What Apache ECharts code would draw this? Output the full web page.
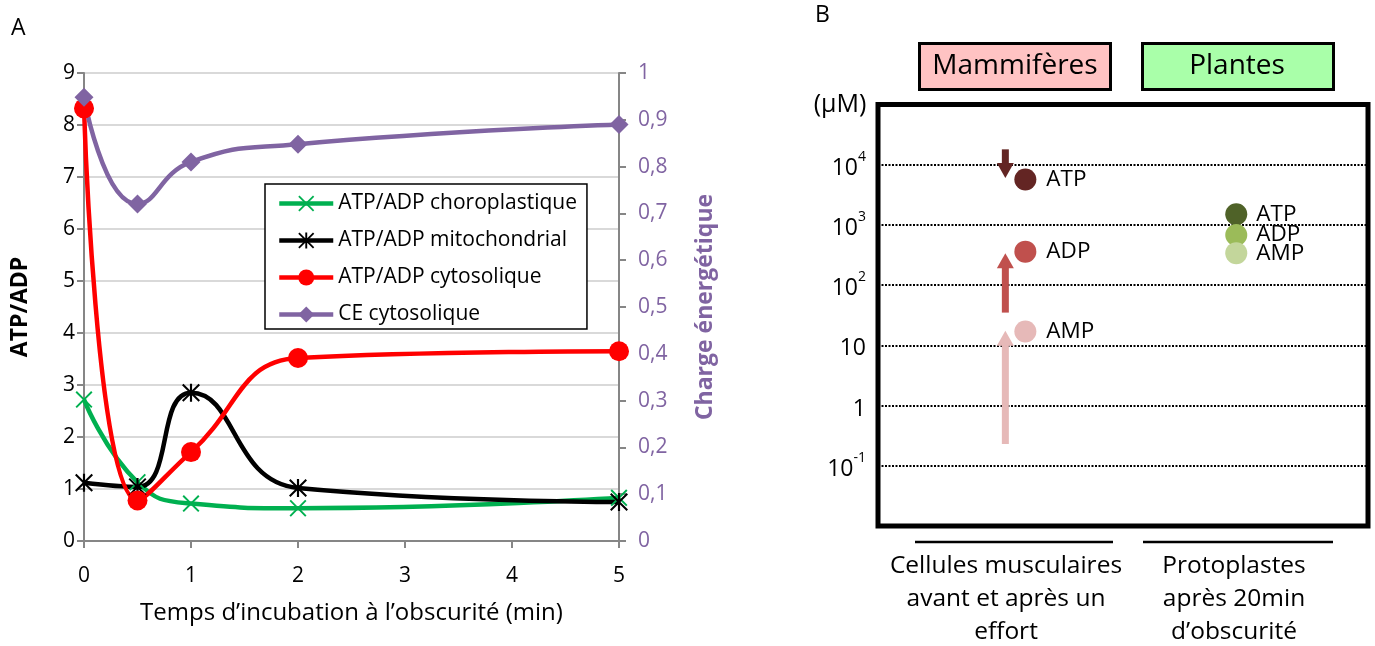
<!DOCTYPE html>
<html>
<head>
<meta charset="utf-8">
<script src="https://cdn.jsdelivr.net/npm/echarts@6/dist/echarts.min.js"></script>
<style>
html,body{margin:0;padding:0;background:#fff;}
#chart{width:1375px;height:646px;}
</style>
</head>
<body>
<div id="chart"></div>
<script>
// ---------- Panel A data ----------
const timesMin = [0, 0.5, 1, 2, 5];
const atpAdpChloro = [2.72, 1.13, 0.72, 0.63, 0.83];
const atpAdpMito = [1.12, 1.04, 2.85, 1.02, 0.75];
const atpAdpCyto = [8.32, 0.78, 1.71, 3.52, 3.65];
const ceCyto = [0.948, 0.72, 0.81, 0.848, 0.89];
const seriesNamesA = ['ATP/ADP choroplastique', 'ATP/ADP mitochondrial', 'ATP/ADP cytosolique', 'CE cytosolique'];

// ---------- Panel B data ----------
const nucleotides = ['ATP', 'ADP', 'AMP'];
const groupsB = ['Mammifères', 'Plantes'];
const categoriesB = [['Cellules musculaires', 'avant et après un', 'effort'], ['Protoplastes', 'après 20min', 'd’obscurité']];
const mammalConc = [5700, 360, 17];
const plantConc = [1500, 680, 340];
const mammalArrowFrom = [18000, 35, 0.23];
const mammalArrowTo = [6000, 340, 17.5];

const FONT = 'Open Sans';
const mammalColors = ['#632523', '#C0504D', '#E6B9B8'];
const plantColors = ['#4F6228', '#9BBB59', '#C3D69B'];

const pairs = (ys) => timesMin.map((t, i) => [t, ys[i]]);

const crossPath = 'path://M0,0.8 L0.8,0 L5,4.2 L9.2,0 L10,0.8 L5.8,5 L10,9.2 L9.2,10 L5,5.8 L0.8,10 L0,9.2 L4.2,5 Z';
const starPath = 'path://M0,0.8 L0.8,0 L5,4.2 L9.2,0 L10,0.8 L5.8,5 L10,9.2 L9.2,10 L5,5.8 L0.8,10 L0,9.2 L4.2,5 Z M4.4,0 L5.6,0 L5.6,10 L4.4,10 Z';

const chart = echarts.init(document.getElementById('chart'), null, {renderer: 'canvas'});

const TICK = 21;
const option = {
  backgroundColor: '#fff',
  animation: false,
  textStyle: {fontFamily: FONT},
  grid: [
    {left: 84, top: 73, width: 535, height: 468},
    {left: 878, top: 104.5, width: 490, height: 421.5, show: true, borderColor: '#000', borderWidth: 5, backgroundColor: 'transparent'}
  ],
  legend: {
    orient: 'vertical', left: 265, top: 184,
    padding: [9, 10, 4, 12],
    itemWidth: 54, itemHeight: 20, itemGap: 16,
    borderColor: '#000', borderWidth: 1.5, backgroundColor: '#fff',
    lineStyle: {width: 4.5},
    textStyle: {fontFamily: FONT, fontSize: 21, color: '#000'},
    data: seriesNamesA
  },
  xAxis: [
    {
      gridIndex: 0, type: 'value', min: 0, max: 5, interval: 1,
      name: 'Temps d’incubation à l’obscurité (min)', nameLocation: 'middle', nameGap: 60,
      nameTextStyle: {fontFamily: FONT, fontSize: 24, color: '#000'},
      axisLine: {lineStyle: {color: '#868686', width: 2}},
      axisTick: {show: true, length: 7, lineStyle: {color: '#868686', width: 2}},
      axisLabel: {margin: 25, fontFamily: FONT, fontSize: TICK, color: '#000'},
      splitLine: {show: false}
    },
    {
      gridIndex: 1, type: 'value', min: -0.55, max: 1.6, show: false
    }
  ],
  yAxis: [
    {
      gridIndex: 0, type: 'value', min: 0, max: 9, interval: 1,
      name: 'ATP/ADP', nameLocation: 'middle', nameGap: 52, nameRotate: 90,
      nameTextStyle: {fontFamily: FONT, fontSize: 23, fontWeight: 'bold', color: '#000'},
      axisLine: {show: true, lineStyle: {color: '#868686', width: 2}},
      axisTick: {show: true, length: 7, lineStyle: {color: '#868686', width: 2}},
      axisLabel: {margin: 9, fontFamily: FONT, fontSize: TICK, color: '#000'},
      splitLine: {show: true, lineStyle: {color: '#D9D9D9', width: 2}}
    },
    {
      gridIndex: 0, type: 'value', position: 'right', min: 0, max: 1, interval: 0.1,
      name: 'Charge énergétique', nameLocation: 'middle', nameGap: 75, nameRotate: 90,
      nameTextStyle: {fontFamily: FONT, fontSize: 23, fontWeight: 'bold', color: '#8064A2'},
      axisLine: {show: true, lineStyle: {color: '#868686', width: 2}},
      axisTick: {show: true, length: 7, lineStyle: {color: '#868686', width: 2}},
      axisLabel: {margin: 19, fontFamily: FONT, fontSize: TICK, color: '#8064A2',
        formatter: (v) => String(Math.round(v * 10) / 10).replace('.', ',')},
      splitLine: {show: false}
    },
    {
      gridIndex: 1, type: 'log', logBase: 10, min: 0.01, max: 100000, splitNumber: 7,
      axisLine: {show: false}, axisTick: {show: false},
      axisLabel: {
        margin: 12, showMinLabel: false, showMaxLabel: false, color: '#000',
        formatter: (v) => {
          const e = Math.round(Math.log10(v));
          if (e === 1) return '{b|10}';
          if (e === 0) return '{b|1}';
          return '{b|10}{s|' + e + '}';
        },
        rich: {
          b: {fontFamily: FONT, fontSize: 23, color: '#000', lineHeight: 30, verticalAlign: 'bottom'},
          s: {fontFamily: FONT, fontSize: 14, color: '#000', lineHeight: 16, verticalAlign: 'top'}
        }
      },
      splitLine: {show: true, lineStyle: {color: '#000', width: 2, type: [2, 1.5]}}
    }
  ],
  series: [
    {
      name: seriesNamesA[0], type: 'line', xAxisIndex: 0, yAxisIndex: 0, smooth: 0.5,
      data: pairs(atpAdpChloro), symbol: crossPath, symbolSize: 17,
      lineStyle: {color: '#00B050', width: 4.5}, itemStyle: {color: '#00B050'}
    },
    {
      name: seriesNamesA[1], type: 'line', xAxisIndex: 0, yAxisIndex: 0, smooth: 0.5,
      data: pairs(atpAdpMito), symbol: starPath, symbolSize: 18,
      lineStyle: {color: '#000000', width: 4.5}, itemStyle: {color: '#000000'}
    },
    {
      name: seriesNamesA[2], type: 'line', xAxisIndex: 0, yAxisIndex: 0, smooth: 0.45,
      data: pairs(atpAdpCyto), symbol: 'circle', symbolSize: 20,
      lineStyle: {color: '#FF0000', width: 4.5}, itemStyle: {color: '#FF0000'}
    },
    {
      name: seriesNamesA[3], type: 'line', xAxisIndex: 0, yAxisIndex: 1, smooth: 0.5,
      data: pairs(ceCyto), symbol: 'diamond', symbolSize: 19,
      lineStyle: {color: '#8064A2', width: 4.5}, itemStyle: {color: '#8064A2'}
    },
    {
      type: 'custom', xAxisIndex: 1, yAxisIndex: 2, silent: true,
      data: mammalArrowFrom.map((v, i) => [0, v, mammalArrowTo[i], i]),
      encode: {x: 0, y: [1, 2]},
      renderItem: (params, api) => {
        const x = api.value(0);
        const p0 = api.coord([x, api.value(1)]);
        const p1 = api.coord([x, api.value(2)]);
        const cx = p0[0] + 2;
        const dir = p1[1] > p0[1] ? 1 : -1;
        const headLen = 15, halfW = 8.5, shaftW = 7;
        const baseY = p1[1] - dir * headLen;
        const col = mammalColors[api.value(3)];
        const y0 = Math.min(p0[1], baseY + dir * 1), y1 = Math.max(p0[1], baseY + dir * 1);
        return {
          type: 'group',
          children: [
            {type: 'rect', shape: {x: cx - shaftW / 2, y: y0, width: shaftW, height: y1 - y0}, style: {fill: col}},
            {type: 'polygon', shape: {points: [[cx, p1[1]], [cx - halfW, baseY], [cx + halfW, baseY]]}, style: {fill: col}}
          ]
        };
      }
    },
    {
      type: 'scatter', xAxisIndex: 1, yAxisIndex: 2, symbolSize: 22, symbolOffset: [22, 0],
      data: nucleotides.map((n, i) => ({name: n, value: [0, mammalConc[i]], itemStyle: {color: mammalColors[i], opacity: 1}})),
      label: {show: true, position: 'right', distance: 10, formatter: '{b}', fontFamily: FONT, fontSize: 22.5, color: '#000'}
    },
    {
      type: 'scatter', xAxisIndex: 1, yAxisIndex: 2, symbolSize: 22, symbolOffset: [5, 0],
      data: nucleotides.map((n, i) => ({name: n, value: [1, plantConc[i]], itemStyle: {color: plantColors[i], opacity: 1}})),
      label: {show: true, position: 'right', distance: 9, formatter: '{b}', fontFamily: FONT, fontSize: 22.5, color: '#000'}
    }
  ],
  graphic: [
    {type: 'text', left: 11, top: 17, style: {text: 'A', fontFamily: FONT, fontSize: 23, fill: '#000'}},
    {type: 'text', left: 815, top: 4, style: {text: 'B', fontFamily: FONT, fontSize: 23, fill: '#000'}},
    {type: 'text', x: 840, y: 105, style: {text: '(µM)', fontFamily: FONT, fontSize: 25, fill: '#000', align: 'center', verticalAlign: 'middle'}},
    {type: 'rect', shape: {x: 919.5, y: 43.5, width: 191, height: 46}, style: {fill: '#FFC3C3', stroke: '#000', lineWidth: 3}},
    {type: 'text', x: 1015, y: 66, style: {text: groupsB[0], fontFamily: FONT, fontSize: 28, fill: '#000', align: 'center', verticalAlign: 'middle'}},
    {type: 'rect', shape: {x: 1142.5, y: 43.5, width: 191, height: 46}, style: {fill: '#A9FFA9', stroke: '#000', lineWidth: 3}},
    {type: 'text', x: 1237, y: 66, style: {text: groupsB[1], fontFamily: FONT, fontSize: 28, fill: '#000', align: 'center', verticalAlign: 'middle'}},
    {type: 'line', shape: {x1: 915, y1: 542, x2: 1113, y2: 542}, style: {stroke: '#000', lineWidth: 2.5}},
    {type: 'line', shape: {x1: 1143, y1: 542, x2: 1333, y2: 542}, style: {stroke: '#000', lineWidth: 2.5}},
    {type: 'text', x: 1006, y: 599, style: {text: categoriesB[0].join('\n'), fontFamily: FONT, fontSize: 24.5, lineHeight: 33, fill: '#000', align: 'center', verticalAlign: 'middle'}},
    {type: 'text', x: 1234, y: 599, style: {text: categoriesB[1].join('\n'), fontFamily: FONT, fontSize: 24.5, lineHeight: 33, fill: '#000', align: 'center', verticalAlign: 'middle'}}
  ]
};
chart.setOption(option);
</script>
</body>
</html>
